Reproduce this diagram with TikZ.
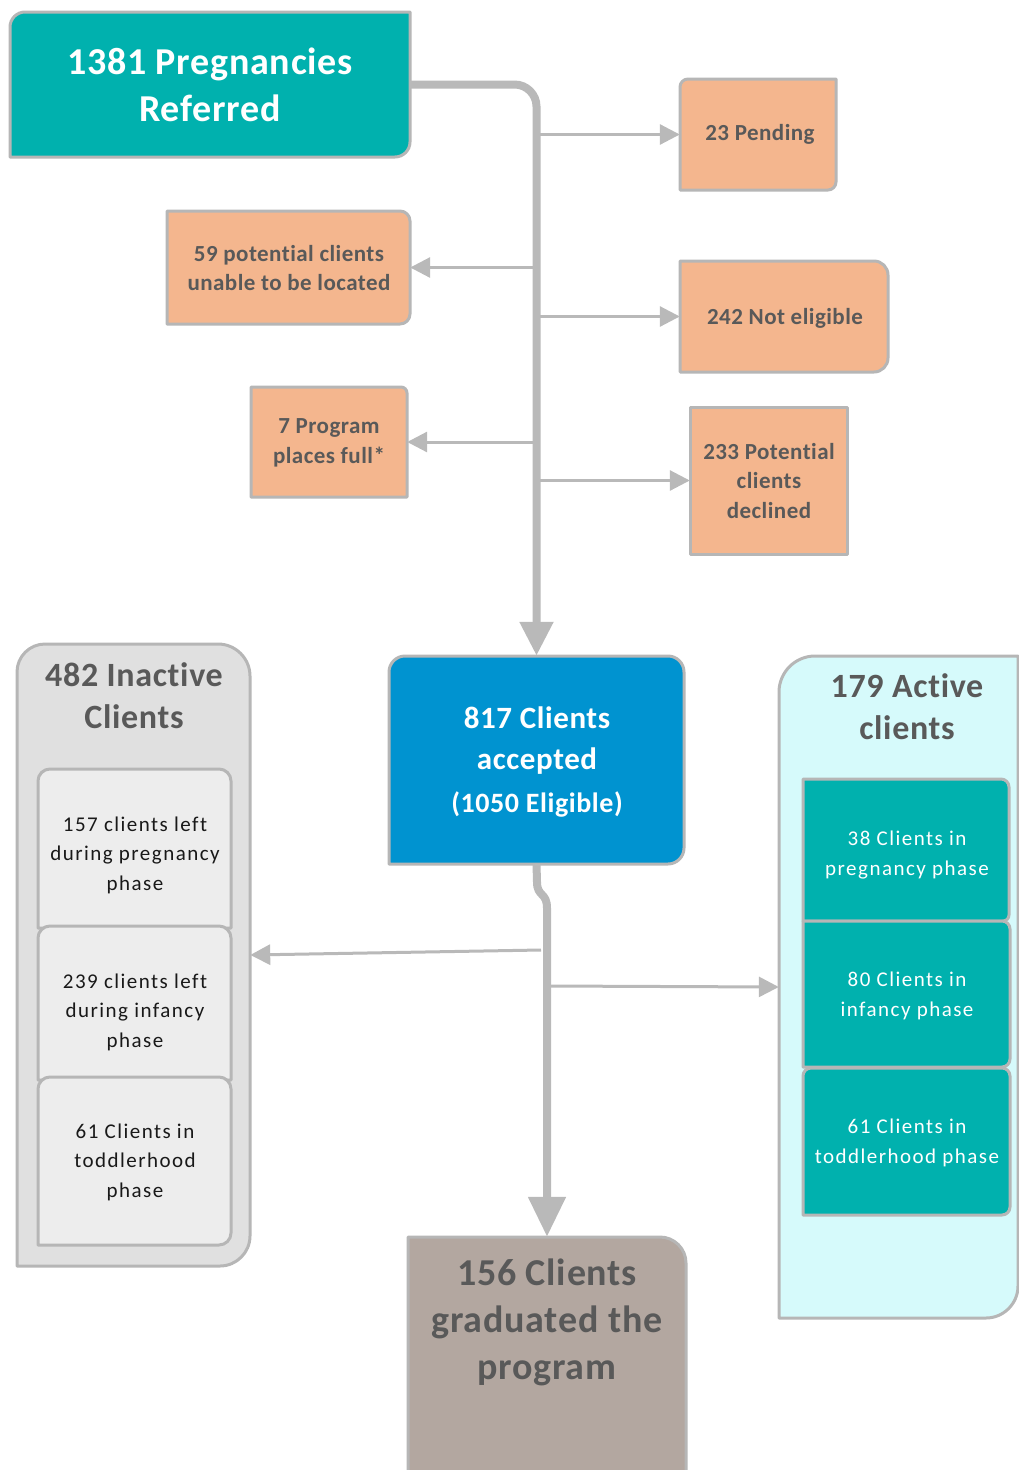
\documentclass[tikz,border=0pt]{standalone}
\usepackage{fontspec}
\setmainfont{Carlito}[LetterSpace=2,Ligatures=NoCommon]
\newfontfamily\smallfont{Carlito}[LetterSpace=7,Ligatures=NoCommon]
\usetikzlibrary{arrows.meta}
\definecolor{edge}{RGB}{182,182,182}
\definecolor{conn}{RGB}{185,185,185}
\definecolor{tealA}{RGB}{0,177,174}
\definecolor{peach}{RGB}{244,182,142}
\definecolor{blueA}{RGB}{0,147,208}
\definecolor{grayA}{RGB}{224,224,224}
\definecolor{grayB}{RGB}{237,237,237}
\definecolor{cyanA}{RGB}{214,250,251}
\definecolor{taupe}{RGB}{179,167,160}
\definecolor{txt}{RGB}{89,89,89}
\definecolor{dark}{RGB}{25,25,25}
\newcommand\rads[4]{\def\rNW{#1}\def\rNE{#2}\def\rSE{#3}\def\rSW{#4}}
\newcommand\skb[6]{%
 \path[#2] (#3,#4+\rNW) .. controls (#3,#4+0.45*\rNW) and (#3+0.45*\rNW,#4) .. (#3+\rNW,#4)
  -- (#5-\rNE,#4) .. controls (#5-0.45*\rNE,#4) and (#5,#4+0.45*\rNE) .. (#5,#4+\rNE)
  -- (#5,#6-\rSE) .. controls (#5,#6-0.45*\rSE) and (#5-0.45*\rSE,#6) .. (#5-\rSE,#6)
  -- (#3+\rSW,#6) .. controls (#3+0.45*\rSW,#6) and (#3,#6-0.45*\rSW) .. (#3,#6-\rSW) -- cycle;
 \node[inner sep=0pt,minimum width={(#5-#3)*1pt},minimum height={(#6-#4)*1pt}] (#1) at ({(#3+#5)/2},{(#4+#6)/2}) {};}
\tikzset{
 boxline/.style={draw=edge,line width=3pt,line join=round},
 thinarrow/.style={draw=conn,line width=3pt,-{Triangle[length=20pt,width=20pt]}},
 thickarrow/.style={draw=conn,line width=8pt,-{Triangle[length=34pt,width=32pt]}},
 thickarrowB/.style={draw=conn,line width=8pt,-{Triangle[length=40pt,width=36pt]}},
 lbl/.style={align=center,inner sep=0pt},
 orangetxt/.style={lbl,text=txt,font=\bfseries\fontsize{23}{29.5}\selectfont},
 smalltxt/.style={lbl,font=\smallfont\fontsize{21}{29.5}\selectfont},
 titletxt/.style={lbl,text=txt,font=\bfseries\fontsize{34}{42}\selectfont},
}
\begin{document}
\begin{tikzpicture}[x=1pt,y=-1pt]
\useasboundingbox (0,0) rectangle (1019,1470);
% boxes
\rads{15}{0}{15}{0}\skb{ref}{boxline,fill=tealA}{10}{12}{410}{157}
\rads{8}{0}{8}{0}\skb{pend}{boxline,fill=peach}{680}{79}{836}{190}
\rads{0}{10}{10}{0}\skb{loc}{boxline,fill=peach}{167}{211}{410}{324}
\rads{0}{14}{14}{0}\skb{nel}{boxline,fill=peach}{680}{261}{888}{372}
\rads{0}{6}{0}{0}\skb{full}{boxline,fill=peach}{251}{387}{407}{497}
\rads{0}{0}{0}{0}\skb{decl}{boxline,fill=peach}{690}{407}{847}{554}
\rads{28}{32}{30}{0}\skb{inac}{boxline,fill=grayA}{17}{644}{250}{1266}
\rads{12}{12}{0}{0}\skb{in1}{boxline,fill=grayB}{38}{769}{231}{928}
\rads{12}{12}{0}{0}\skb{in2}{boxline,fill=grayB}{38}{926}{231}{1080}
\rads{12}{12}{12}{0}\skb{in3}{boxline,fill=grayB}{38}{1077}{231}{1245}
\rads{16}{16}{16}{0}\skb{acc}{boxline,fill=blueA}{389}{656}{684}{864}
\rads{36}{0}{32}{0}\skb{act}{boxline,fill=cyanA}{779}{656}{1018}{1318}
\rads{0}{8}{6}{0}\skb{ac1}{boxline,fill=tealA}{803}{779}{1009}{921}
\rads{0}{8}{8}{0}\skb{ac2}{boxline,fill=tealA}{803}{921}{1010}{1067}
\rads{8}{8}{8}{0}\skb{ac3}{boxline,fill=tealA}{803}{1068}{1010}{1215}
\rads{0}{26}{0}{0}\skb{grad}{boxline,fill=taupe}{408}{1237}{686}{1476}
% connectors
\draw[thickarrow,rounded corners=22pt] (ref.east) -| (acc.north);
\coordinate (b1) at (acc.north |- pend.west);
\coordinate (b2) at (acc.north |- loc.east);
\coordinate (b3) at (acc.north |- nel.west);
\coordinate (b4) at (acc.north |- full.east);
\coordinate (b5) at (acc.north |- decl.west);
\draw[thinarrow] (b1) -- (pend.west);
\draw[thinarrow] (b2) -- (loc.east);
\draw[thinarrow] (b3) -- (nel.west);
\draw[thinarrow] (b4) -- (full.east);
\draw[thinarrow] (b5) -- (decl.west);
\draw[thickarrowB] (acc.south) -- (537,882) .. controls (537,897) and (547,892) .. (547,908) -- (grad.north);
\coordinate (j1) at (541,950);
\coordinate (j2) at (548,986);
\draw[thinarrow] (j1) -- (inac.east);
\draw[thinarrow] (j2) -- (act.west);
% texts
\node[lbl,text=white,font=\bfseries\fontsize{38}{47}\selectfont] (tref) at (210,85) {1381 Pregnancies\\Referred};
\node[orangetxt] (tpend) at (760,134) {23 Pending};
\node[orangetxt] (tloc) at (289,268) {59 potential clients\\unable to be located};
\node[orangetxt] (tnel) at (785,318) {242 Not eligible};
\node[orangetxt] (tfull) at (329,443) {7 Program\\places full*};
\node[orangetxt] (tdecl) at (769,481) {233 Potential\\clients\\declined};
\node[titletxt] (tinac) at (134,696) {482 Inactive\\Clients};
\node[smalltxt,text=dark] (tin1) at (135,855) {157 clients left\\during pregnancy\\phase};
\node[smalltxt,text=dark] (tin2) at (135,1012) {239 clients left\\during infancy\\phase};
\node[smalltxt,text=dark] (tin3) at (135,1162) {61 Clients in\\toddlerhood\\phase};
\node[lbl,text=white,font=\bfseries\fontsize{31}{41}\selectfont] (tacc) at (537,741) {817 Clients\\accepted};
\node[lbl,text=white,font=\bfseries\fontsize{28}{34}\selectfont] (tacc2) at (537,804) {(1050 Eligible)};
\node[titletxt] (tact) at (907,707) {179 Active\\clients};
\node[smalltxt,text=white] (tac1) at (907,855) {38 Clients in\\pregnancy phase};
\node[smalltxt,text=white] (tac2) at (907,996) {80 Clients in\\infancy phase};
\node[smalltxt,text=white] (tac3) at (907,1143) {61 Clients in\\toddlerhood phase};
\node[lbl,text=txt,font=\bfseries\fontsize{38}{47}\selectfont] (tgrad) at (547,1322) {156 Clients\\graduated the\\program};
\end{tikzpicture}
\end{document}
